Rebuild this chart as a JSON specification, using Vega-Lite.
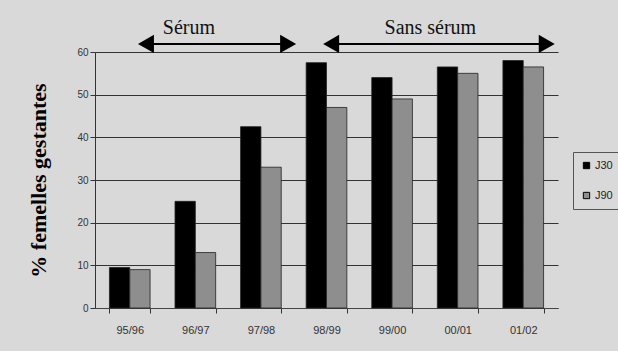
{
  "$schema": "https://vega.github.io/schema/vega-lite/v6.json",
  "width": 463,
  "height": 256,
  "autosize": {"type": "none"},
  "padding": {"left": 95, "top": 52, "right": 60, "bottom": 43},
  "background": "#d9d9d9",
  "config": {
    "view": {"stroke": null},
    "axis": {"labelFont": "Liberation Sans", "labelColor": "#333", "domainColor": "#333", "tickColor": "#333"}
  },
  "datasets": {
    "bars": [
      {"saison": "95/96", "serie": "J30", "pct": 9.5},
      {"saison": "95/96", "serie": "J90", "pct": 9},
      {"saison": "96/97", "serie": "J30", "pct": 25},
      {"saison": "96/97", "serie": "J90", "pct": 13},
      {"saison": "97/98", "serie": "J30", "pct": 42.5},
      {"saison": "97/98", "serie": "J90", "pct": 33},
      {"saison": "98/99", "serie": "J30", "pct": 57.5},
      {"saison": "98/99", "serie": "J90", "pct": 47},
      {"saison": "99/00", "serie": "J30", "pct": 54},
      {"saison": "99/00", "serie": "J90", "pct": 49},
      {"saison": "00/01", "serie": "J30", "pct": 56.5},
      {"saison": "00/01", "serie": "J90", "pct": 55},
      {"saison": "01/02", "serie": "J30", "pct": 58},
      {"saison": "01/02", "serie": "J90", "pct": 56.5}
    ],
    "ann": [
      {"label": "Sérum", "xs": 0.77, "xe": 2.92, "xt": 1.42, "ya": 61.9, "yt": 65.6},
      {"label": "Sans sérum", "xs": 3.57, "xe": 6.83, "xt": 5.07, "ya": 61.9, "yt": 65.6}
    ]
  },
  "layer": [
    {
      "data": {"name": "bars"},
      "mark": {"type": "bar", "stroke": "#222", "strokeWidth": 0.8},
      "encoding": {
        "x": {
          "field": "saison", "type": "nominal", "sort": null,
          "scale": {"paddingInner": 0.38, "paddingOuter": 0.22},
          "axis": {"title": null, "labelAngle": 0, "labelFontSize": 11, "labelPadding": 11, "tickBand": "extent", "tickSize": 5, "domainColor": "#444"}
        },
        "xOffset": {"field": "serie", "type": "nominal", "scale": {"paddingInner": 0}},
        "y": {
          "field": "pct", "type": "quantitative",
          "scale": {"domain": [0, 60], "nice": false},
          "axis": {"values": [0, 10, 20, 30, 40, 50, 60], "title": "% femelles gestantes", "titleFont": "Liberation Serif", "titleFontSize": 22, "titleFontWeight": "bold", "titleColor": "#000", "titlePadding": 26, "labelFontSize": 10, "tickSize": 5, "gridColor": "#333", "gridWidth": 1.2, "grid": true}
        },
        "color": {
          "field": "serie", "type": "nominal",
          "scale": {"domain": ["J30", "J90"], "range": ["#000000", "#8e8e8e"]},
          "legend": {"title": null, "orient": "none", "legendX": 478, "legendY": 100, "direction": "vertical", "strokeColor": "#555", "fillColor": "#d9d9d9", "padding": 8, "symbolType": "square", "symbolSize": 40, "symbolStrokeColor": "#000", "symbolStrokeWidth": 1, "labelFont": "Liberation Sans", "labelFontSize": 11, "labelOffset": 3, "rowPadding": 18, "labelColor": "#222"}
        }
      }
    },
    {
      "data": {"name": "ann"},
      "mark": {"type": "rule", "stroke": "#000", "strokeWidth": 2},
      "encoding": {
        "x": {"field": "xs", "type": "quantitative", "scale": {"domain": [0, 7], "nice": false}, "axis": null},
        "x2": {"field": "xe"},
        "y": {"field": "ya", "type": "quantitative"}
      }
    },
    {
      "data": {"name": "ann"},
      "mark": {"type": "point", "shape": "triangle-left", "filled": true, "color": "#000", "size": 340, "opacity": 1},
      "encoding": {
        "x": {"field": "xs", "type": "quantitative", "scale": {"domain": [0, 7], "nice": false}, "axis": null},
        "y": {"field": "ya", "type": "quantitative"}
      }
    },
    {
      "data": {"name": "ann"},
      "mark": {"type": "point", "shape": "triangle-right", "filled": true, "color": "#000", "size": 340, "opacity": 1},
      "encoding": {
        "x": {"field": "xe", "type": "quantitative", "scale": {"domain": [0, 7], "nice": false}, "axis": null},
        "y": {"field": "ya", "type": "quantitative"}
      }
    },
    {
      "data": {"name": "ann"},
      "mark": {"type": "text", "font": "Liberation Serif", "fontSize": 20, "color": "#111", "baseline": "middle"},
      "encoding": {
        "x": {"field": "xt", "type": "quantitative", "scale": {"domain": [0, 7], "nice": false}, "axis": null},
        "y": {"field": "yt", "type": "quantitative"},
        "text": {"field": "label"}
      }
    }
  ],
  "resolve": {"scale": {"x": "independent"}}
}
